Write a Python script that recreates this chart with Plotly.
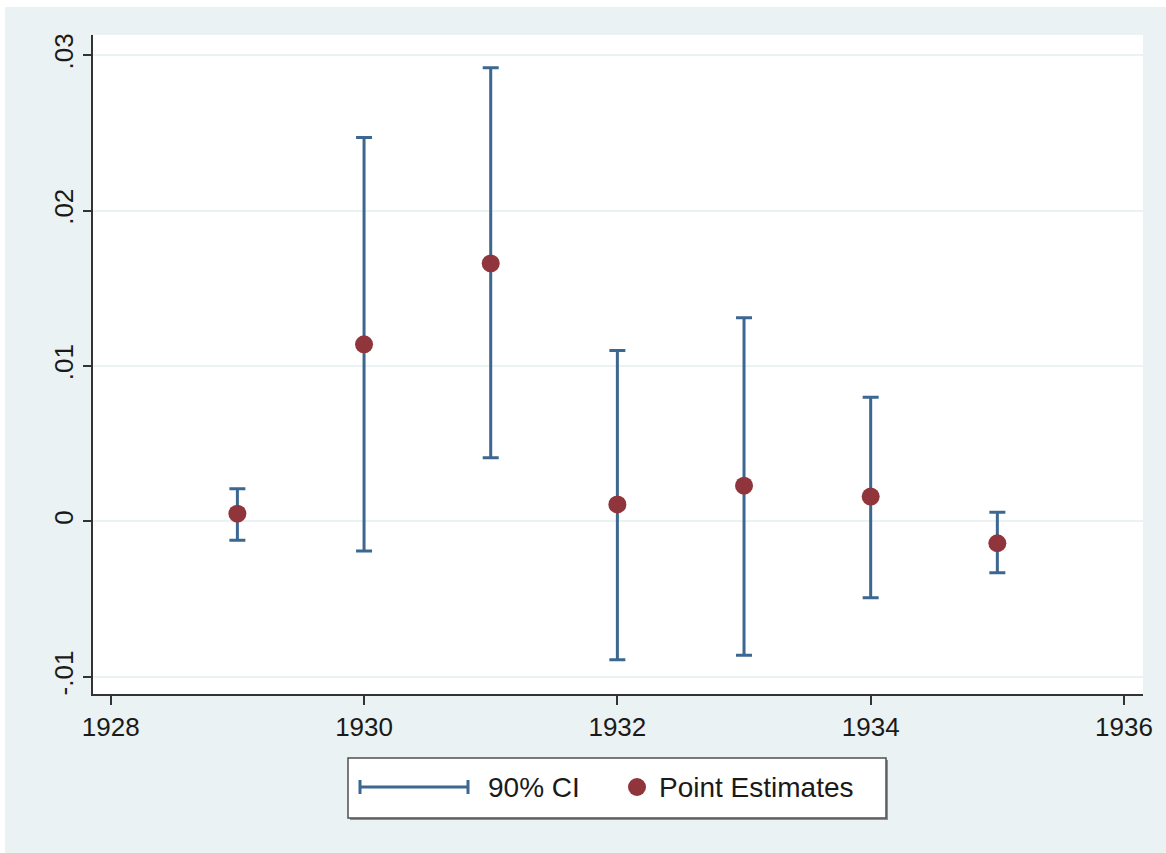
import plotly.graph_objects as go

# ---- data ----
years = [1929, 1930, 1931, 1932, 1933, 1934, 1935]
point_est = [0.0005, 0.0114, 0.0166, 0.0011, 0.0023, 0.0016, -0.0014]
ci_upper = [0.0021, 0.0247, 0.0292, 0.0110, 0.0131, 0.0080, 0.0006]
ci_lower = [-0.0012, -0.0019, 0.0041, -0.0089, -0.0086, -0.0049, -0.0033]

y_tickvals = [-0.01, 0, 0.01, 0.02, 0.03]
y_ticktext = ["-.01", "0", ".01", ".02", ".03"]
x_tickvals = [1928, 1930, 1932, 1934, 1936]
x_ticktext = ["1928", "1930", "1932", "1934", "1936"]
legend_labels = ["90% CI", "Point Estimates"]

# ---- styles ----
W, H = 1166, 853
L, R, T, B = 93, 23, 35, 159
BG = "#EAF2F3"
CI_COLOR = "#3B6790"
PT_COLOR = "#90353B"
FONT = "Liberation Sans, Arial, Helvetica, sans-serif"
PW, PH = W - L - R, H - T - B


def px2x(px):
    return (px - L) / PW


def px2y(py):
    return (H - B - py) / PH


fig = go.Figure()

fig.add_trace(go.Scatter(
    x=years, y=point_est, mode="markers",
    marker=dict(size=1, color="rgba(0,0,0,0)"),
    error_y=dict(type="data", symmetric=False,
                 array=[u - p for u, p in zip(ci_upper, point_est)],
                 arrayminus=[p - l for p, l in zip(point_est, ci_lower)],
                 color=CI_COLOR, thickness=3, width=8),
    name=legend_labels[0], showlegend=False, hoverinfo="skip",
))
fig.add_trace(go.Scatter(
    x=years, y=point_est, mode="markers",
    marker=dict(size=18, color=PT_COLOR, line=dict(width=0)),
    name=legend_labels[1], showlegend=False,
))

shapes = []
# white strip along the top and the left edge (page around the graph)
shapes.append(dict(type="rect", xref="paper", yref="paper", x0=px2x(0), x1=px2x(W),
                   y0=px2y(7), y1=px2y(0), fillcolor="white", line=dict(width=0), layer="below"))
shapes.append(dict(type="rect", xref="paper", yref="paper", x0=px2x(0), x1=px2x(5),
                   y0=px2y(H), y1=px2y(0), fillcolor="white", line=dict(width=0), layer="below"))
# legend box with shadow
shapes.append(dict(type="rect", xref="paper", yref="paper", x0=px2x(350), x1=px2x(888),
                   y0=px2y(820), y1=px2y(760), fillcolor="#8A8F91", line=dict(width=0)))
shapes.append(dict(type="rect", xref="paper", yref="paper", x0=px2x(348), x1=px2x(886),
                   y0=px2y(818), y1=px2y(758), fillcolor="white",
                   line=dict(color="#505050", width=1.5)))
# legend CI symbol
ly = 787
shapes.append(dict(type="line", xref="paper", yref="paper", x0=px2x(360), x1=px2x(468),
                   y0=px2y(ly), y1=px2y(ly), line=dict(color=CI_COLOR, width=3)))
for cx in (360, 468):
    shapes.append(dict(type="line", xref="paper", yref="paper", x0=px2x(cx), x1=px2x(cx),
                       y0=px2y(ly - 7), y1=px2y(ly + 7), line=dict(color=CI_COLOR, width=3)))
# legend point symbol
shapes.append(dict(type="circle", xref="paper", yref="paper", x0=px2x(628), x1=px2x(646),
                   y0=px2y(ly + 9), y1=px2y(ly - 9), fillcolor=PT_COLOR, line=dict(width=0)))

annotations = [
    dict(x=px2x(486), y=px2y(ly), xref="paper", yref="paper", text=legend_labels[0],
         showarrow=False, xanchor="left", yanchor="middle",
         font=dict(family=FONT, size=28, color="#1a1a1a")),
    dict(x=px2x(657), y=px2y(ly), xref="paper", yref="paper", text=legend_labels[1],
         showarrow=False, xanchor="left", yanchor="middle",
         font=dict(family=FONT, size=28, color="#1a1a1a")),
]

fig.update_layout(
    width=W, height=H,
    margin=dict(l=L, r=R, t=T, b=B, pad=0),
    paper_bgcolor=BG, plot_bgcolor="white",
    font=dict(family=FONT, size=26, color="#1a1a1a"),
    shapes=shapes, annotations=annotations,
    showlegend=False,
)
fig.update_xaxes(
    range=[1927.86, 1936.15], tickvals=x_tickvals, ticktext=x_ticktext,
    showgrid=False, zeroline=False, showline=True, linecolor="#333", linewidth=1.5,
    ticks="outside", ticklen=9, tickwidth=1.5, tickcolor="#333",
    tickfont=dict(size=26, color="#1a1a1a"),
)
fig.update_yaxes(
    range=[-0.0111, 0.0313], tickvals=y_tickvals, ticktext=y_ticktext,
    showgrid=True, gridcolor=BG, gridwidth=2, zeroline=False,
    showline=True, linecolor="#333", linewidth=1.5,
    ticks="outside", ticklen=8, tickwidth=1.5, tickcolor="#333",
    tickangle=-90, tickfont=dict(size=26, color="#1a1a1a"),
)

fig.write_html("out.html", config={"displayModeBar": False},
               post_script="document.body.style.margin='0';")
